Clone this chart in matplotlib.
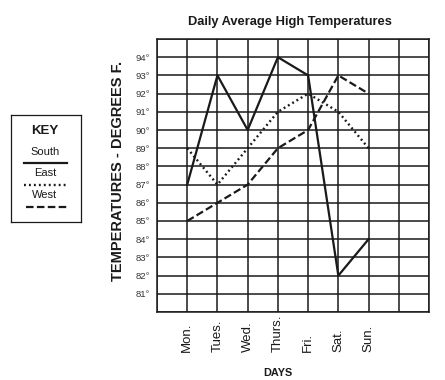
import numpy as np
import matplotlib
matplotlib.use("Agg")
import matplotlib.pyplot as plt

plt.rcParams['font.family'] = ['Liberation Sans', 'DejaVu Sans']

# datos
dias = ["Mon.", "Tues.", "Wed.", "Thurs.", "Fri.", "Sat.", "Sun."]
south = [87, 93, 90, 94, 93, 82, 84]
east = [89, 87, 89, 91, 92, 91, 89]
west = [85, 86, 87, 89, 90, 93, 92]
grados = list(range(81, 95))

tinta = "#1a1a1a"
estilo_south = dict(color=tinta, lw=1.6, linestyle="-")
estilo_east = dict(color=tinta, lw=1.7, linestyle=(0, (0.8, 1.3)))
estilo_west = dict(color=tinta, lw=1.6, linestyle=(0, (3.4, 1.5)))

fig = plt.figure(figsize=(4.45, 3.8), dpi=100)
ax = fig.add_axes([157/445, 1-312/380, 272/445, 273/380])

x = np.arange(1, len(dias) + 1)
ax.plot(x, south, **estilo_south)
ax.plot(x, east, **estilo_east)
ax.plot(x, west, **estilo_west)

ax.set_xlim(0, 9)
ax.set_ylim(80, 95)
ax.set_xticks(range(0, 10))
ax.set_yticks(range(80, 96))
ax.set_xticklabels([])
ax.set_yticklabels(["" if g not in grados else f"{g}°" for g in range(80, 96)],
                   fontsize=6.8, color="#333333")
ax.tick_params(length=0, pad=5)
ax.grid(True, color=tinta, lw=1.1)
ax.set_axisbelow(True)
for s in ax.spines.values():
    s.set_linewidth(1.1)
    s.set_color(tinta)

for xi, d in zip(x, dias):
    ax.text(xi, -0.147, d, transform=ax.get_xaxis_transform(), rotation=90,
            ha="center", va="bottom", fontsize=9.5, color=tinta)

ax.text(0.445, -0.225, "DAYS", transform=ax.transAxes, ha="center", va="center",
        fontsize=7.8, fontweight="bold", color=tinta)
ax.text(-0.143, 0.516, "TEMPERATURES - DEGREES F.", transform=ax.transAxes,
        rotation=90, ha="center", va="center", fontsize=10.5, fontweight="bold",
        color=tinta)
fig.text(290/445, 1-22/380, "Daily Average High Temperatures", ha="center",
         va="center", fontsize=9.3, fontweight="bold", color=tinta)

# caja de la leyenda
key = fig.add_axes([11/445, 1-222/380, 70/445, 107/380])
key.set_xlim(0, 70)
key.set_ylim(107, 0)
key.set_xticks([])
key.set_yticks([])
for s in key.spines.values():
    s.set_linewidth(0.9)
    s.set_color(tinta)
key.text(34, 16, "KEY", ha="center", va="center", fontsize=9.5,
         fontweight="bold", color=tinta)
key.text(34, 37, "South", ha="center", va="center", fontsize=8, color=tinta)
key.plot([13, 56], [48, 48], **estilo_south)
key.text(34, 58, "East", ha="center", va="center", fontsize=8, color=tinta)
key.plot([13, 57], [70, 70], **estilo_east)
key.text(34, 80, "West", ha="center", va="center", fontsize=8, color=tinta)
key.plot([15, 57], [92, 92], **estilo_west)

fig.savefig("out.png", dpi=100)
